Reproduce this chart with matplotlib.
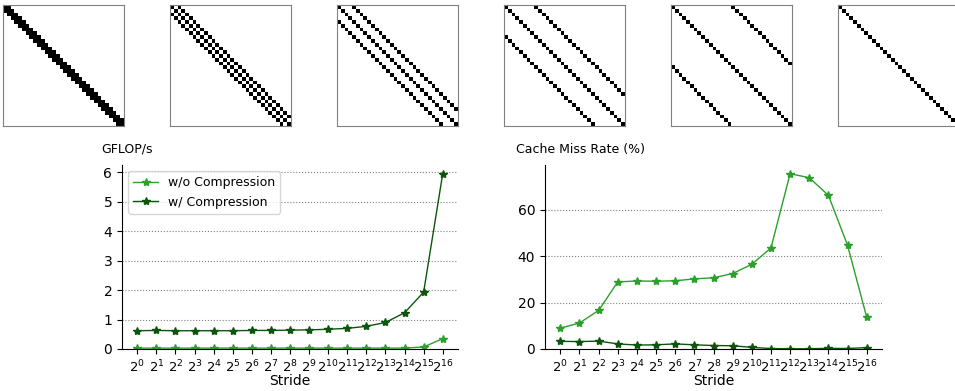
import numpy as np
import matplotlib.pyplot as plt

# sparsity patterns: main diagonal plus +/- stride
n = 32
pattern_strides = [1, 2, 4, 8, 16, 32]

strides = list(range(17))  # exponents, stride = 2^k
stride_labels = [r"$2^{%d}$" % k for k in strides]

gflops_wo = [0.03, 0.03, 0.03, 0.03, 0.03, 0.03, 0.03, 0.03, 0.03, 0.03, 0.03, 0.03, 0.03, 0.03, 0.03, 0.07, 0.35]
gflops_w = [0.62, 0.63, 0.62, 0.62, 0.62, 0.62, 0.63, 0.63, 0.64, 0.65, 0.67, 0.70, 0.77, 0.90, 1.23, 1.93, 5.95]

miss_wo = [9.0, 11.2, 16.6, 28.9, 29.3, 29.2, 29.4, 30.2, 30.7, 32.5, 36.5, 43.5, 75.5, 73.8, 66.2, 44.7, 13.7]
miss_w = [3.3, 3.2, 3.4, 2.2, 1.7, 1.8, 2.2, 1.8, 1.5, 1.4, 0.7, 0.2, 0.1, 0.1, 0.3, 0.2, 0.6]

light = "#2ca02c"
dark = "#0b560b"

fig = plt.figure(figsize=(9.55, 3.91), dpi=100)

# top row of matrices
for i, s in enumerate(pattern_strides):
    m = np.zeros((n, n))
    for off in (-s, 0, s):
        if abs(off) < n:
            m += np.eye(n, k=off)
    x0 = (3 + 167 * i) / 955
    ax = fig.add_axes([x0, 265 / 391, 121 / 955, 121 / 391])
    ax.imshow(m > 0, cmap="Greys", interpolation="nearest", aspect="auto")
    ax.set_xticks([])
    ax.set_yticks([])
    for sp in ax.spines.values():
        sp.set_color("gray")

ax1 = fig.add_axes([122 / 955, 42 / 391, 336 / 955, 184 / 391])
ax2 = fig.add_axes([545 / 955, 42 / 391, 337 / 955, 184 / 391])

ax1.plot(strides, gflops_wo, color=light, marker="*", lw=1, ms=6, label="w/o Compression")
ax1.plot(strides, gflops_w, color=dark, marker="*", lw=1, ms=6, label="w/ Compression")
ax1.legend(loc="upper left", fontsize=9)

ax2.plot(strides, miss_wo, color=light, marker="*", lw=1, ms=6)
ax2.plot(strides, miss_w, color=dark, marker="*", lw=1, ms=6)

for ax in (ax1, ax2):
    ax.set_ylim(bottom=0)
    ax.set_xticks(strides)
    ax.set_xticklabels(stride_labels, fontsize=9.5)
    ax.tick_params(axis="y", labelsize=10)
    ax.set_xlabel("Stride", fontsize=10, labelpad=-1)
    ax.grid(axis="y", ls=":", color="gray", lw=0.8)
    ax.spines["top"].set_visible(False)
    ax.spines["right"].set_visible(False)

ax1.set_yticks([0, 1, 2, 3, 4, 5, 6])
ax2.set_yticks([0, 20, 40, 60])

fig.text(101 / 955, 1 - 149 / 391, "GFLOP/s", fontsize=9, va="center", ha="left")
fig.text(516 / 955, 1 - 149 / 391, "Cache Miss Rate (%)", fontsize=9, va="center", ha="left")

fig.savefig("out.png", dpi=100)
